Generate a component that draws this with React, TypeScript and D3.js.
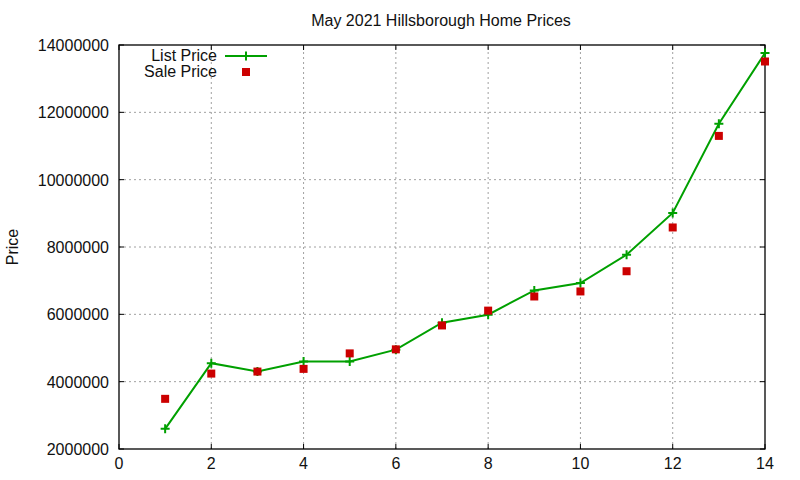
import React from "react";
import * as d3 from "d3";

// data
const months = [1, 2, 3, 4, 5, 6, 7, 8, 9, 10, 11, 12, 13, 14];
const listPrice = [2600000, 4550000, 4300000, 4600000, 4600000, 4950000, 5750000, 5990000, 6710000, 6930000, 7770000, 9010000, 11660000, 13760000];
const salePrice = [3490000, 4240000, 4300000, 4380000, 4840000, 4960000, 5670000, 6110000, 6530000, 6680000, 7280000, 8580000, 11300000, 13510000];
const xTicks = [0, 2, 4, 6, 8, 10, 12, 14];
const yTicks = [2000000, 4000000, 6000000, 8000000, 10000000, 12000000, 14000000];

const W = 800;
const H = 480;
const margin = {top: 45, right: 35, bottom: 31, left: 119};
const font = "'Liberation Sans', Arial, sans-serif";
const green = "#00a000";
const red = "#cc0000";

const App: React.FC = () => {
	const x = d3.scaleLinear().domain([0, 14]).range([margin.left, W - margin.right]);
	const y = d3.scaleLinear().domain([2000000, 14000000]).range([H - margin.bottom, margin.top]);
	const line = d3
		.line<number>()
		.x((_, i) => x(months[i]))
		.y((d) => y(d));
	const [x0, x1] = x.range();
	const [y0, y1] = y.range();
	const tick = 5;

	return (
		<div style={{position: "fixed", left: 0, top: 0}}>
			<svg width={W} height={H} style={{display: "block", background: "#fff"}} fontFamily={font}>
				{/* grid */}
				{xTicks.slice(1, -1).map((t) => (
					<line key={"gx" + t} x1={x(t)} x2={x(t)} y1={y0} y2={y1} stroke="#a0a0a0" strokeDasharray="2,3" />
				))}
				{yTicks.slice(1, -1).map((t) => (
					<line key={"gy" + t} x1={x0} x2={x1} y1={y(t)} y2={y(t)} stroke="#a0a0a0" strokeDasharray="2,3" />
				))}
				{/* ticks, mirrored */}
				{xTicks.map((t) => (
					<g key={"tx" + t} stroke="#000">
						<line x1={x(t)} x2={x(t)} y1={y0} y2={y0 - tick} />
						<line x1={x(t)} x2={x(t)} y1={y1} y2={y1 + tick} />
					</g>
				))}
				{yTicks.map((t) => (
					<g key={"ty" + t} stroke="#000">
						<line x1={x0} x2={x0 + tick} y1={y(t)} y2={y(t)} />
						<line x1={x1} x2={x1 - tick} y1={y(t)} y2={y(t)} />
					</g>
				))}
				<rect x={x0} y={y1} width={x1 - x0} height={y0 - y1} fill="none" stroke="#000" strokeWidth={1.3} />
				{/* tick labels */}
				{xTicks.map((t) => (
					<text key={"lx" + t} x={x(t)} y={y0 + 20} textAnchor="middle" fontSize={16} fill="#111">
						{t}
					</text>
				))}
				{yTicks.map((t) => (
					<text key={"ly" + t} x={x0 - 10} y={y(t) + 6} textAnchor="end" fontSize={16} fill="#111">
						{t}
					</text>
				))}
				<text x={441} y={26} textAnchor="middle" fontSize={16} fill="#111">
					May 2021 Hillsborough Home Prices
				</text>
				<text transform={`translate(18, ${(y0 + y1) / 2}) rotate(-90)`} textAnchor="middle" fontSize={16} fill="#111">
					Price
				</text>
				{/* list price */}
				<path d={line(listPrice) || ""} fill="none" stroke={green} strokeWidth={2} />
				{listPrice.map((v, i) => (
					<path
						key={"lp" + i}
						d={`M${x(months[i]) - 4.5},${y(v)}h9M${x(months[i])},${y(v) - 4.5}v9`}
						stroke={green}
						strokeWidth={2}
					/>
				))}
				{/* sale price */}
				{salePrice.map((v, i) => (
					<rect key={"sp" + i} x={x(months[i]) - 4} y={y(v) - 4} width={8} height={8} fill={red} />
				))}
				{/* legend */}
				<text x={217} y={61} textAnchor="end" fontSize={16} fill="#111">
					List Price
				</text>
				<line x1={225} x2={267} y1={56} y2={56} stroke={green} strokeWidth={2} />
				<path d="M241.5,56h9M246,51.5v9" stroke={green} strokeWidth={2} />
				<text x={217} y={77} textAnchor="end" fontSize={16} fill="#111">
					Sale Price
				</text>
				<rect x={242} y={68} width={8} height={8} fill={red} />
			</svg>
		</div>
	);
};

export default App;
